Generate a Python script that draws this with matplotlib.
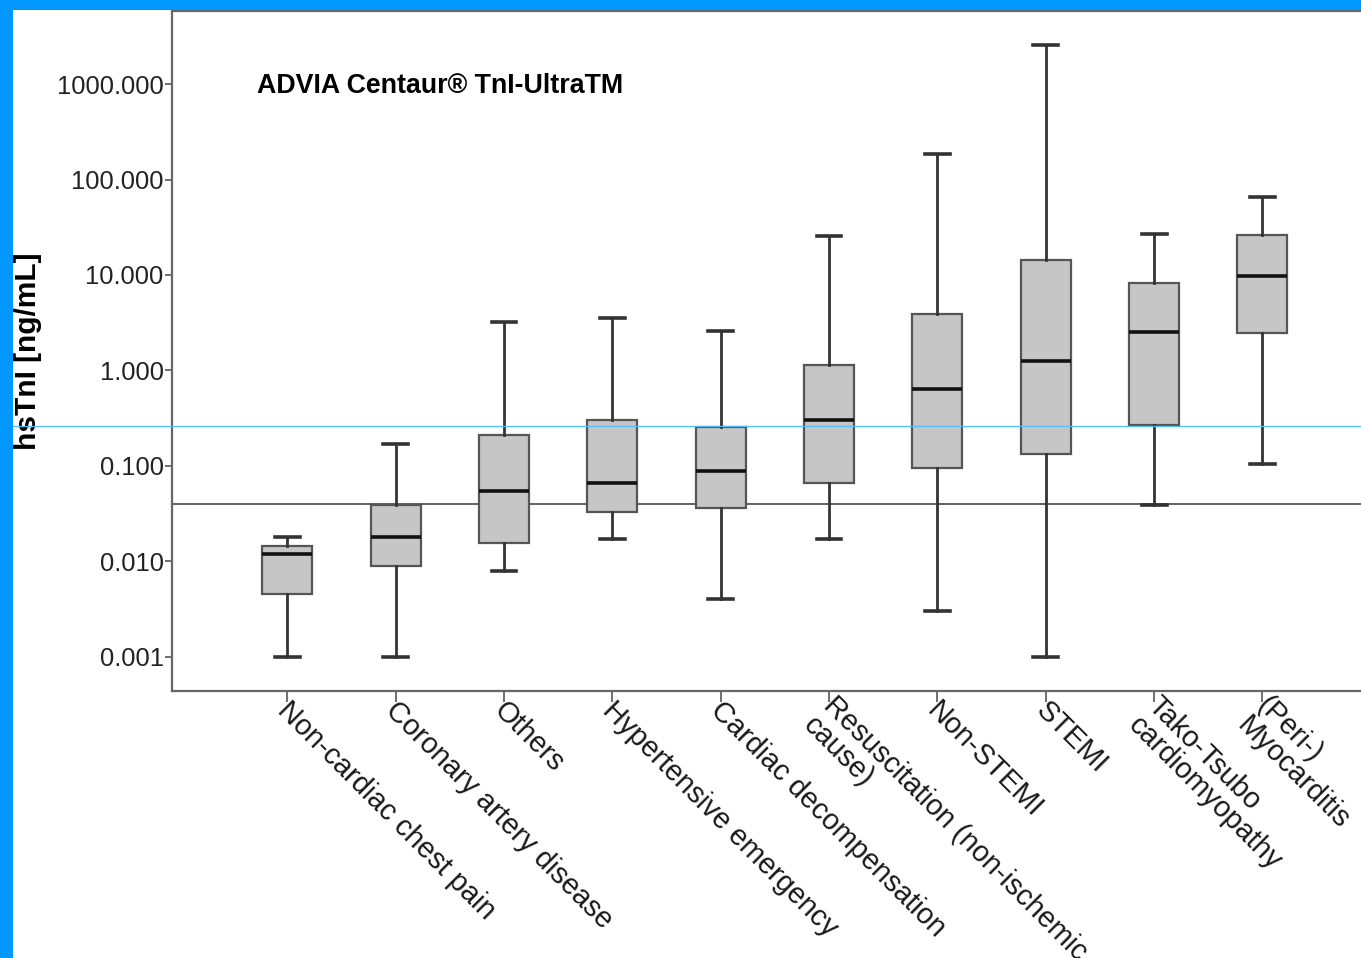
import matplotlib
matplotlib.use("Agg")
import matplotlib.pyplot as plt
from matplotlib.patches import Rectangle
from matplotlib.lines import Line2D
import matplotlib.transforms as mtransforms

plt.rcParams['font.family'] = ['Liberation Sans', 'DejaVu Sans']

categories = ["Non-cardiac chest pain", "Coronary artery disease", "Others",
              "Hypertensive emergency", "Cardiac decompensation",
              "Resuscitation (non-ischemic\ncause)", "Non-STEMI", "STEMI",
              "Tako-Tsubo\ncardiomyopathy", "(Peri-)\nMyocarditis"]
whisker_low = [0.001, 0.001, 0.008, 0.017, 0.004, 0.017, 0.003, 0.001, 0.039, 0.105]
quartile1 = [0.0045, 0.009, 0.0154, 0.0326, 0.036, 0.0665, 0.096, 0.133, 0.268, 2.46]
medians = [0.012, 0.018, 0.054, 0.066, 0.088, 0.303, 0.64, 1.26, 2.54, 9.7]
quartile3 = [0.0146, 0.039, 0.209, 0.302, 0.257, 1.13, 3.87, 14.4, 8.24, 26.4]
whisker_high = [0.0179, 0.168, 3.19, 3.57, 2.57, 25.8, 185, 2590, 26.6, 65.7]
ytick_values = [0.001, 0.01, 0.1, 1, 10, 100, 1000]
ytick_labels = ["0.001", "0.010", "0.100", "1.000", "10.000", "100.000", "1000.000"]
reference_line = 0.04
marker_line = 0.26
title = "ADVIA Centaur® TnI-UltraTM"
ylabel = "hsTnI [ng/mL]"

W, H = 1361, 958
fig = plt.figure(figsize=(W / 100, H / 100), dpi=100)
ax = fig.add_axes([172 / W, 1 - 691 / H, (W - 172) / W + 0.002, (691 - 11) / H])

stats = []
for i, name in enumerate(categories):
    stats.append(dict(label=name, whislo=whisker_low[i], q1=quartile1[i], med=medians[i],
                      q3=quartile3[i], whishi=whisker_high[i], fliers=[]))

positions = list(range(len(categories)))
ax.bxp(stats, positions=positions, widths=0.46, patch_artist=True, showfliers=False,
       boxprops=dict(facecolor='#c6c6c6', edgecolor='#555555', linewidth=1.6),
       medianprops=dict(color='#111111', linewidth=2.6),
       whiskerprops=dict(color='#333333', linewidth=2.0),
       capprops=dict(color='#333333', linewidth=2.6),
       capwidths=0.23, zorder=3)

ax.set_yscale('log')
ax.set_ylim(0.000438, 5825)
ax.set_xlim(-1.064, 9.935)

ax.axhline(reference_line, color='#555555', linewidth=1.3, zorder=2)
# thin light-blue marker line spanning the figure width
trans = mtransforms.blended_transform_factory(fig.transFigure, ax.transData)
fig.add_artist(Line2D([0, 1], [marker_line, marker_line], transform=trans,
                      color='#55bbff', linewidth=0.9, zorder=5))

ax.set_yticks(ytick_values)
ax.set_yticklabels(ytick_labels)
ax.minorticks_off()
ax.tick_params(axis='y', direction='out', length=5, width=1.2, color='#555555',
               labelsize=18.4, labelcolor='#222222', pad=1)
ax.set_xticks(positions)
ax.set_xticklabels([])
ax.tick_params(axis='x', direction='out', length=8, width=1.2, color='#555555')

for i, name in enumerate(categories):
    offset = (6, 0) if '\n' in name else (3, -4)
    ax.annotate(name, xy=(i, 0), xycoords=('data', 'axes fraction'),
                xytext=offset, textcoords='offset points',
                rotation=-45, rotation_mode='anchor', ha='left', va='top',
                fontsize=20.8, color='#1a1a1a', linespacing=1.0, annotation_clip=False)

for side in ['left', 'bottom', 'top']:
    ax.spines[side].set_color('#666666')
    ax.spines[side].set_linewidth(1.6)
ax.spines['right'].set_visible(False)

ax.text(0.0715, 0.89, title, transform=ax.transAxes, fontsize=19.3,
        fontweight='bold', ha='left', va='center', color='black')

fig.text(28 / W, 1 - 351 / H, ylabel, rotation=90, fontsize=21.5, fontweight='bold',
         ha='center', va='center', color='black')

# blue frame on left and top
fig.add_artist(Rectangle((0, 0), 13 / W, 1, transform=fig.transFigure,
                         facecolor='#0098fe', edgecolor='none', zorder=10))
fig.add_artist(Rectangle((0, 1 - 10 / H), 1, 10 / H, transform=fig.transFigure,
                         facecolor='#0098fe', edgecolor='none', zorder=10))

fig.savefig('out.png', dpi=100)
